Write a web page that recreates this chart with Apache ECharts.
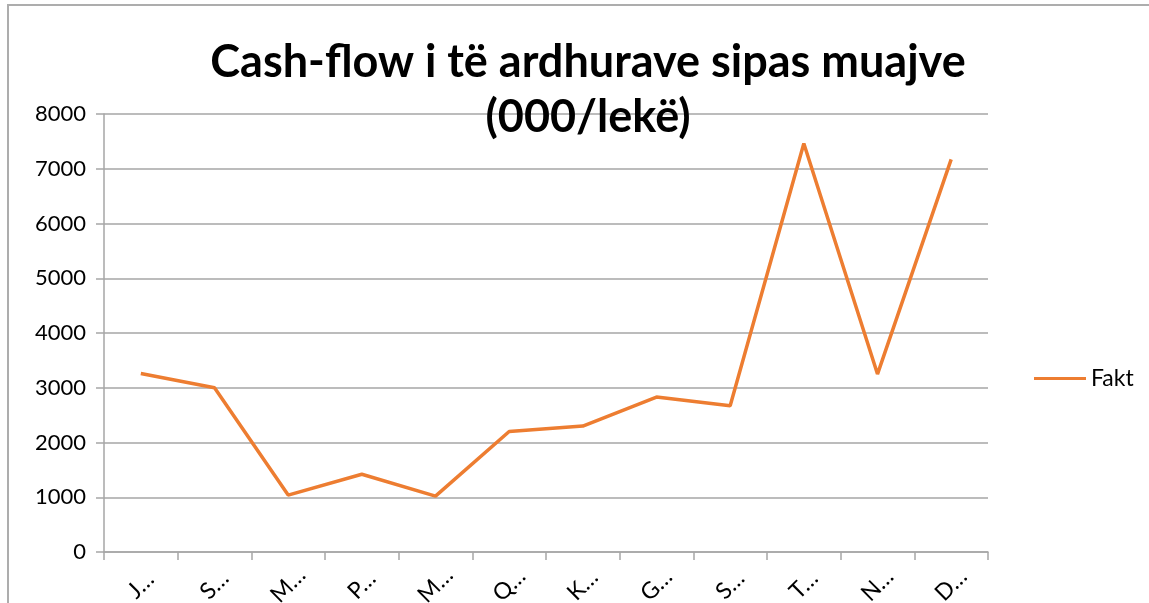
<!DOCTYPE html>
<html>
<head>
<meta charset="utf-8">
<script src="https://cdn.jsdelivr.net/npm/echarts@6/dist/echarts.min.js"></script>
<style>
html,body{margin:0;padding:0;background:#fff;}
#chart{width:1149px;height:603px;}
</style>
</head>
<body>
<div id="chart"></div>
<script>
const titleText = 'Cash-flow i të ardhurave sipas muajve\n(000/lekë)';
const months = ['Janar','Shkurt','Mars','Prill','Maj','Qershor','Korrik','Gusht','Shtator','Tetor','Nëntor','Dhjetor'];
const seriesName = 'Fakt';
const faktValues = [3260, 3000, 1040, 1420, 1020, 2200, 2300, 2830, 2670, 7460, 3250, 7170];
const yTicks = {min: 0, max: 8000, interval: 1000};

const font = 'Lato, "Open Sans", sans-serif';
const chart = echarts.init(document.getElementById('chart'));
chart.setOption({
  animation: false,
  backgroundColor: '#fff',
  graphic: [
    {type: 'rect', shape: {x: 8, y: 5, width: 1200, height: 700}, style: {fill: 'none', stroke: '#ADADAD', lineWidth: 2}, silent: true}
  ],
  title: {
    text: titleText,
    left: 583, top: 30, textAlign: 'center',
    textStyle: {fontFamily: font, fontWeight: 'bold', fontSize: 45, lineHeight: 55, color: '#000'}
  },
  legend: {
    data: [seriesName],
    left: 1029, top: 362,
    itemWidth: 52, itemHeight: 3, itemGap: 4,
    icon: 'rect',
    textStyle: {fontFamily: font, fontSize: 23, color: '#000'}
  },
  grid: {left: 104, right: 161, top: 114, bottom: 51, containLabel: false, outerBoundsMode: 'none'},
  xAxis: {
    type: 'category',
    data: months,
    boundaryGap: true,
    axisLine: {lineStyle: {color: '#A6A6A6', width: 1.5}},
    axisTick: {show: true, length: 8, alignWithLabel: false, lineStyle: {color: '#A6A6A6', width: 1.5}},
    axisLabel: {
      rotate: 45, margin: 33, align: 'center', verticalAlign: 'middle', interval: 0,
      fontFamily: font, fontSize: 23, color: '#000',
      formatter: v => v.charAt(0) + '…'
    },
    splitLine: {show: false}
  },
  yAxis: {
    type: 'value',
    min: yTicks.min, max: yTicks.max, interval: yTicks.interval,
    axisLine: {show: true, lineStyle: {color: '#A6A6A6', width: 1.5}},
    axisTick: {show: true, length: 8, lineStyle: {color: '#A6A6A6', width: 1.5}},
    axisLabel: {fontFamily: font, fontSize: 22, color: '#000', margin: 18, formatter: v => String(v)},
    splitLine: {show: true, lineStyle: {color: '#A6A6A6', width: 1.5}}
  },
  series: [{
    name: seriesName,
    type: 'line',
    data: faktValues,
    symbol: 'none',
    lineStyle: {color: '#ED7D31', width: 3.5},
    itemStyle: {color: '#ED7D31'}
  }]
});
</script>
</body>
</html>
